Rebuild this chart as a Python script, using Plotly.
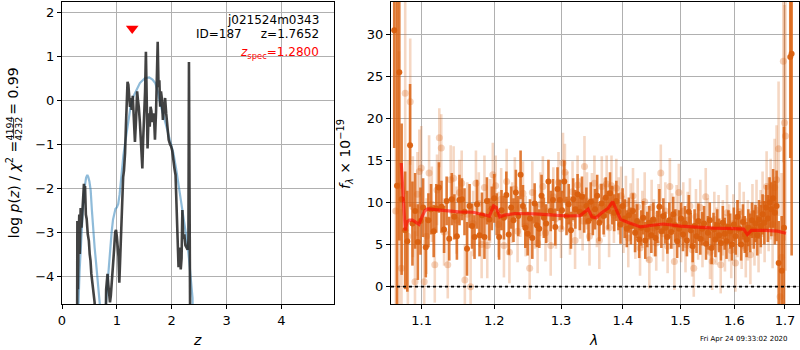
import plotly.graph_objects as go

# ---------------------------------------------------------------------------
# Left panel: log p(z) from the grism fit and the smooth photometric p(z)
# ---------------------------------------------------------------------------
z_grism = [0.275, 0.280, 0.290, 0.300, 0.315, 0.325, 0.340, 0.355, 0.370, 0.385,
           0.400, 0.410, 0.420, 0.435, 0.450, 0.470, 0.490, 0.505, 0.520, 0.535,
           0.550, 0.565, 0.580, 0.595, 0.610, 0.790, 0.805, 0.815, 0.830, 0.845,
           0.860, 0.875, 0.890, 0.905, 0.920, 0.935, 0.950, 0.970, 0.985, 1.000,
           1.015, 1.030, 1.045, 1.060, 1.075, 1.090, 1.100, 1.115, 1.130, 1.150,
           1.165, 1.180, 1.195, 1.210, 1.225, 1.240, 1.255, 1.270, 1.290, 1.310,
           1.330, 1.350, 1.370, 1.385, 1.400, 1.420, 1.440, 1.465, 1.480, 1.500,
           1.515, 1.530, 1.545, 1.560, 1.580, 1.600, 1.615, 1.630, 1.645, 1.665,
           1.680, 1.695, 1.715, 1.730, 1.745, 1.760, 1.775, 1.790, 1.805, 1.820,
           1.840, 1.860, 1.880, 1.900, 1.920, 1.945, 1.970, 1.990, 2.010, 2.030,
           2.050, 2.070, 2.085, 2.100, 2.115, 2.125, 2.140, 2.150, 2.165, 2.180,
           2.195, 2.210, 2.230, 2.250, 2.270, 2.290, 2.305, 2.315, 2.325, 2.340]
logp_grism = [-6.00, -2.75, -4.30, -3.30, -2.60, -3.50, -2.45, -2.90, -2.50, -2.05,
              -1.90, -2.30, -1.95, -2.60, -2.70, -3.05, -3.20, -3.50, -3.65, -3.95,
              -4.10, -4.25, -4.45, -4.60, -6.00, -6.00, -4.30, -4.05, -3.95, -4.20,
              -4.40, -4.60, -4.45, -4.20, -4.00, -3.85, -3.40, -3.00, -2.95, -3.10,
              -3.30, -3.55, -4.15, -3.60, -3.10, -2.30, -2.05, -1.75, -1.60, -1.20,
              -0.60, -0.10, 0.42, 0.35, -0.05, -0.15, 0.05, -0.22, 0.10, -0.35,
              -0.95, -0.45, 0.20, 0.00, -0.15, -0.50, -0.90, -1.55, -0.90, -0.40,
              0.20, 1.10, 0.05, -1.10, -0.30, -0.60, -0.15, -0.25, -0.50, -0.30,
              -0.45, -0.90, -0.25, 0.50, 1.33, 0.30, 0.45, -0.15, 0.20, 0.05,
              -0.45, -0.20, 0.05, -0.30, -0.60, -0.90, -1.00, -1.05, -1.15, -1.45,
              -1.55, -1.70, -2.30, -2.90, -3.50, -3.80, -3.40, -3.35, -3.85, -3.60,
              -2.50, -3.15, -3.05, -3.30, -3.35, -3.40, -3.20, 0.87, -2.00, -6.00]

z_phot = [0.290, 0.300, 0.320, 0.340, 0.355, 0.380, 0.410, 0.440, 0.462, 0.480,
          0.500, 0.523, 0.545, 0.570, 0.595, 0.620, 0.645, 0.670, 0.690, 0.700,
          0.780, 0.800, 0.825, 0.860, 0.880, 0.905, 0.930, 0.950, 0.975, 1.000,
          1.025, 1.050, 1.070, 1.088, 1.120, 1.150, 1.180, 1.210, 1.250, 1.300,
          1.360, 1.420, 1.510, 1.590, 1.650, 1.700, 1.750, 1.790, 1.850, 1.910,
          1.970, 2.030, 2.080, 2.120, 2.160, 2.210, 2.250, 2.285, 2.315, 2.345,
          2.380, 2.400]
logp_phot = [-6.00, -4.65, -3.90, -3.35, -3.00, -2.50, -2.00, -1.76, -1.70, -1.75,
             -1.85, -2.05, -2.50, -3.00, -3.35, -3.68, -4.00, -4.35, -4.65, -6.00,
             -6.00, -4.65, -4.25, -3.63, -3.30, -3.00, -2.72, -2.56, -2.47, -2.44,
             -2.36, -2.15, -1.88, -1.58, -1.25, -0.98, -0.70, -0.45, -0.15, 0.08,
             0.25, 0.39, 0.50, 0.52, 0.47, 0.39, 0.18, -0.08, -0.35, -0.65,
             -0.92, -1.20, -1.55, -1.89, -2.18, -2.55, -2.95, -3.25, -3.60, -3.95,
             -4.50, -6.00]

z_spec = 1.28
z_spec_marker_y = 1.63
chi2_num, chi2_den, chi2_red = 4194, 4232, 0.99

# ---------------------------------------------------------------------------
# Right panel: 1D spectrum (two orients), best-fit model
# ---------------------------------------------------------------------------
wave_a = [1.0645, 1.0680, 1.0710, 1.0740, 1.0785, 1.0813, 1.0849, 1.0880, 1.0915, 1.0950,
          1.0985, 1.1020, 1.1055, 1.1090, 1.1125, 1.1160, 1.1195, 1.1230, 1.1265, 1.1300,
          1.1335, 1.1370, 1.1405, 1.1440, 1.1475, 1.1510, 1.1545, 1.1580, 1.1615, 1.1650,
          1.1685, 1.1720, 1.1755, 1.1790, 1.1825, 1.1860, 1.1895, 1.1930, 1.1965, 1.2000,
          1.2035, 1.2070, 1.2105, 1.2140, 1.2175, 1.2210, 1.2245, 1.2280, 1.2315, 1.2350,
          1.2385, 1.2420, 1.2455, 1.2490, 1.2525, 1.2560, 1.2595, 1.2630, 1.2665, 1.2700,
          1.2735, 1.2770, 1.2805, 1.2840, 1.2875, 1.2910, 1.2945, 1.2980, 1.3015, 1.3050,
          1.3085, 1.3120, 1.3155, 1.3190, 1.3225, 1.3260, 1.3295, 1.3330, 1.3365, 1.3400,
          1.3435, 1.3470, 1.3505, 1.3540, 1.3575, 1.3610, 1.3645, 1.3680, 1.3715, 1.3750,
          1.3785, 1.3820, 1.3855, 1.3890, 1.3925, 1.3960, 1.3995, 1.4030, 1.4065, 1.4100,
          1.4135, 1.4170, 1.4205, 1.4240, 1.4275, 1.4310, 1.4345, 1.4380, 1.4415, 1.4450,
          1.4485, 1.4520, 1.4555, 1.4590, 1.4625, 1.4660, 1.4695, 1.4730, 1.4765, 1.4800,
          1.4835, 1.4870, 1.4905, 1.4940, 1.4975, 1.5010, 1.5045, 1.5080, 1.5115, 1.5150,
          1.5185, 1.5220, 1.5255, 1.5290, 1.5325, 1.5360, 1.5395, 1.5430, 1.5465, 1.5500,
          1.5535, 1.5570, 1.5605, 1.5640, 1.5675, 1.5710, 1.5745, 1.5780, 1.5815, 1.5850,
          1.5885, 1.5920, 1.5955, 1.5990, 1.6025, 1.6060, 1.6095, 1.6130, 1.6165, 1.6200,
          1.6235, 1.6270, 1.6305, 1.6340, 1.6375, 1.6410, 1.6445, 1.6480, 1.6515, 1.6550,
          1.6585, 1.6620, 1.6655, 1.6690, 1.6725, 1.6760, 1.6795, 1.6830,
          1.6872, 1.6934, 1.6980, 1.7108, 1.7136]
flux_a = [30.5, 12.0, 25.5, 10.4, 6.7, 5.4, 16.8, 7.5, 9.0, 5.3,
          7.8, 9.4, 4.7, 7.9, 9.2, 6.6, 9.3, 11.8, 9.5, 6.8,
          10.2, 5.7, 10.4, 8.3, 6.0, 10.3, 10.4, 8.9, 4.5, 9.6,
          7.2, 5.9, 9.8, 6.1, 8.5, 5.9, 10.2, 8.0, 9.3, 10.5,
          8.6, 5.9, 9.1, 8.2, 10.9, 6.2, 9.4, 7.9, 11.2, 8.4,
          13.3, 9.6, 7.0, 6.3, 8.1, 5.8, 9.9, 7.3, 6.9, 10.8,
          8.2, 7.5, 12.5, 9.0, 10.3, 7.1, 11.6, 10.3, 9.1, 12.5,
          8.4, 9.8, 6.7, 10.4, 9.2, 11.0, 8.9, 10.7, 8.7, 9.6,
          7.8, 10.1, 8.3, 9.2, 10.8, 7.6, 9.9, 8.4, 10.6, 9.1,
          11.1, 9.7, 8.8, 10.2, 8.9, 7.4, 9.6, 8.1, 6.9, 8.5,
          7.2, 9.0, 6.4, 7.8, 5.6, 7.0, 8.2, 5.5, 6.8, 7.6,
          6.1, 8.0, 5.8, 7.1, 9.5, 6.6, 8.4, 7.0, 5.9, 7.9,
          6.5, 8.6, 7.3, 5.4, 6.9, 8.1, 6.2, 7.5, 5.5, 8.9,
          6.7, 4.8, 7.2, 6.0, 7.8, 5.7, 6.9, 7.5, 5.1, 6.4,
          7.9, 4.6, 6.8, 5.6, 7.3, 6.1, 5.2, 7.6, 6.3, 5.4,
          7.1, 6.6, 5.0, 7.4, 6.0, 8.3, 6.9, 5.0, 7.7, 6.2,
          5.6, 7.0, 6.4, 7.9, 6.8, 7.5, 6.1, 8.0, 7.2, 8.6,
          7.6, 9.4, 8.1, 10.0, 9.2, 10.5, 8.8, 9.6,
          2.8, 1.9, 7.0, 27.3, 27.7]
err_a = [14.0, 24.0, 20.0, 9.0, 7.0, 6.0, 7.3, 5.0, 4.5, 4.5,
         4.0, 3.5, 3.6, 3.2, 3.0, 3.1, 2.9, 3.0, 3.1, 2.8,
         2.9, 2.6, 3.1, 2.7, 2.8, 3.0, 2.5, 2.8, 3.2, 2.6,
         2.7, 2.6, 2.9, 2.5, 2.7, 2.6, 2.8, 2.5, 2.6, 2.9,
         2.5, 2.7, 2.4, 2.6, 2.8, 2.4, 2.5, 2.6, 2.7, 2.4,
         2.9, 2.5, 2.4, 2.6, 2.3, 2.5, 2.4, 2.6, 2.3, 2.5,
         2.4, 2.3, 2.6, 2.4, 2.5, 2.2, 2.6, 2.4, 2.3, 2.5,
         2.3, 2.4, 2.2, 2.5, 2.3, 2.4, 2.2, 2.4, 2.3, 2.2,
         2.4, 2.3, 2.2, 2.4, 2.5, 2.2, 2.3, 2.2, 2.4, 2.3,
         2.5, 2.3, 2.2, 2.4, 2.2, 2.3, 2.1, 2.3, 2.2, 2.1,
         2.2, 2.1, 2.3, 2.0, 2.2, 2.1, 2.0, 2.2, 2.1, 2.0,
         2.1, 2.0, 2.2, 1.9, 2.1, 2.0, 2.1, 1.9, 2.0, 2.1,
         2.0, 2.1, 1.9, 2.0, 2.2, 1.9, 2.0, 2.1, 1.9, 2.0,
         2.1, 1.9, 2.0, 2.0, 2.1, 1.9, 2.0, 2.1, 1.9, 2.0,
         2.1, 1.9, 2.0, 2.1, 1.9, 2.0, 2.1, 2.0, 1.9, 2.1,
         2.0, 2.1, 1.9, 2.0, 2.2, 2.0, 2.1, 1.9, 2.1, 2.2,
         2.1, 2.2, 2.3, 2.1, 2.3, 2.2, 2.4, 2.3, 2.5, 2.4,
         2.6, 2.7, 2.8, 3.0, 3.2, 3.5, 3.8, 4.2,
         5.0, 6.5, 12.0, 12.0, 24.0]

wave_b = [1.0665, 1.0705, 1.0738, 1.0786, 1.0820, 1.0851, 1.0885, 1.0913, 1.0945, 1.0970,
          1.0995, 1.1034, 1.1065, 1.1099, 1.1135, 1.1175, 1.1205, 1.1236, 1.1262, 1.1300,
          1.1350, 1.1390, 1.1430, 1.1470, 1.1510, 1.1541, 1.1585, 1.1620, 1.1665, 1.1700,
          1.1740, 1.1780, 1.1820, 1.1860, 1.1900, 1.1940, 1.1980, 1.2020, 1.2060, 1.2100,
          1.2140, 1.2180, 1.2220, 1.2260, 1.2300, 1.2340, 1.2380, 1.2420, 1.2460, 1.2520,
          1.2560, 1.2600, 1.2640, 1.2680, 1.2720, 1.2760, 1.2800, 1.2840, 1.2880, 1.2920,
          1.2960, 1.3000, 1.3030, 1.3060, 1.3100, 1.3140, 1.3180, 1.3220, 1.3260, 1.3300,
          1.3340, 1.3370, 1.3410, 1.3450, 1.3490, 1.3530, 1.3570, 1.3610, 1.3650, 1.3690,
          1.3730, 1.3770, 1.3810, 1.3850, 1.3890, 1.3930, 1.3970, 1.4010, 1.4050, 1.4090,
          1.4130, 1.4170, 1.4210, 1.4250, 1.4290, 1.4330, 1.4370, 1.4410, 1.4450, 1.4490,
          1.4530, 1.4570, 1.4610, 1.4650, 1.4690, 1.4730, 1.4770, 1.4810, 1.4850, 1.4890,
          1.4930, 1.4970, 1.5010, 1.5050, 1.5090, 1.5130, 1.5170, 1.5210, 1.5240, 1.5280,
          1.5320, 1.5360, 1.5400, 1.5460, 1.5500, 1.5540, 1.5580, 1.5620, 1.5660, 1.5700,
          1.5740, 1.5780, 1.5820, 1.5860, 1.5900, 1.5940, 1.5980, 1.6020, 1.6060, 1.6100,
          1.6140, 1.6180, 1.6220, 1.6260, 1.6310, 1.6350, 1.6390, 1.6430, 1.6470, 1.6510,
          1.6550, 1.6590, 1.6630, 1.6670, 1.6710, 1.6750, 1.6790, 1.6830, 1.6870, 1.6900,
          1.6930, 1.6966, 1.6990, 1.7010]
flux_b = [9.0, 12.0, 2.2, 23.0, 6.0, 22.0, 9.5, 0.6, 11.0, 13.7,
          14.1, 0.6, 6.0, 13.5, 9.8, 2.6, 11.5, 17.7, 16.5, 6.5,
          2.6, 12.7, 12.9, 7.9, 11.2, 12.3, 0.8, 8.6, 0.0, 7.5,
          12.3, 9.9, 5.0, 11.8, 4.9, 9.0, 13.3, 12.0, 7.4, 10.4,
          4.9, 12.5, 4.1, 8.8, 11.6, 6.6, 9.4, 11.1, 7.2, 2.2,
          11.2, 8.0, 5.2, 9.8, 11.9, 6.4, 9.0, 4.9, 10.7, 8.1,
          12.4, 6.9, 14.7, 13.6, 10.0, 7.3, 11.3, 5.5, 12.1, 9.3,
          7.8, 14.3, 10.2, 6.0, 9.9, 12.3, 8.2, 5.5, 11.9, 9.4,
          12.2, 7.0, 12.0, 8.5, 11.7, 9.6, 10.8, 7.4, 9.9, 5.8,
          8.9, 10.8, 6.8, 9.5, 4.6, 8.0, 10.1, 6.3, 3.2, 9.4,
          7.0, 5.2, 8.7, 13.5, 6.3, 9.0, 4.8, 11.9, 7.8, 3.0,
          8.8, 11.2, 6.1, 9.0, 5.0, 7.9, 9.6, 4.4, 2.2, 8.3,
          6.6, 9.4, 5.5, 10.7, 7.2, 4.1, 3.0, 8.0, 6.0, 7.6,
          2.6, 7.0, 5.2, 8.8, 6.4, 4.3, 7.5, 2.8, 6.9, 8.9,
          5.6, 7.9, 4.6, 6.7, 3.8, 8.6, 6.2, 9.1, 5.4, 7.7,
          9.8, 6.9, 11.9, 8.6, 10.4, 7.4, 11.8, 12.7, 16.4, -1.2,
          3.5, 26.8, 19.5, 17.9]
err_b = [26.0, 16.0, 7.0, 12.0, 9.0, 7.5, 6.0, 6.0, 5.0, 5.0,
         5.0, 5.0, 4.5, 4.5, 4.5, 4.5, 4.2, 3.5, 4.0, 4.0,
         4.0, 4.1, 3.8, 4.0, 3.9, 3.9, 4.2, 3.8, 4.2, 3.9,
         3.9, 3.7, 4.0, 3.8, 3.9, 3.8, 3.8, 3.6, 3.9, 3.7,
         3.8, 3.9, 3.7, 3.6, 3.8, 3.7, 3.5, 3.8, 3.6, 3.7,
         3.7, 3.5, 3.6, 3.8, 3.6, 3.4, 3.7, 3.6, 3.5, 3.6,
         3.6, 3.5, 3.6, 3.4, 3.7, 3.5, 3.6, 3.4, 3.5, 3.6,
         3.5, 3.6, 3.4, 3.5, 3.6, 3.3, 3.5, 3.4, 3.6, 3.5,
         3.4, 3.5, 3.6, 3.3, 3.5, 3.4, 3.5, 3.4, 3.3, 3.5,
         3.4, 3.3, 3.5, 3.4, 3.3, 3.4, 3.5, 3.3, 3.4, 3.3,
         3.4, 3.3, 3.5, 3.4, 3.3, 3.4, 3.2, 3.4, 3.3, 3.4,
         3.3, 3.4, 3.2, 3.4, 3.3, 3.4, 3.3, 3.2, 3.4, 3.3,
         3.4, 3.3, 3.2, 3.4, 3.3, 3.2, 3.4, 3.3, 3.4, 3.3,
         3.4, 3.3, 3.4, 3.3, 3.4, 3.3, 3.5, 3.4, 3.4, 3.5,
         3.5, 3.4, 3.5, 3.6, 3.5, 3.6, 3.7, 3.6, 3.7, 3.8,
         3.9, 4.0, 4.2, 4.4, 4.8, 5.2, 5.8, 6.5, 8.0, 8.0,
         10.0, 12.0, 14.0, 16.0]

model_wave = [1.0735, 1.0760, 1.0786, 1.0810, 1.0840, 1.0880, 1.0920, 1.0965, 1.1000, 1.1040,
              1.1080, 1.1150, 1.1300, 1.1500, 1.1700, 1.1850, 1.1930, 1.1990, 1.2030, 1.2080,
              1.2150, 1.2300, 1.2600, 1.2900, 1.3100, 1.3300, 1.3380, 1.3430, 1.3490, 1.3560,
              1.3650, 1.3750, 1.3830, 1.3900, 1.3960, 1.4100, 1.4300, 1.4500, 1.4700, 1.5000,
              1.5300, 1.5600, 1.6000, 1.6180, 1.6250, 1.6330, 1.6600, 1.6850, 1.7020]
model_flux = [14.7, 10.0, 6.7, 7.7, 7.9, 7.9, 7.7, 7.4, 8.2, 9.0,
              9.25, 9.2, 9.0, 8.9, 8.85, 8.6, 8.4, 9.6, 9.4, 8.3,
              8.5, 8.7, 8.65, 8.5, 8.4, 8.45, 8.9, 9.2, 8.3, 8.2,
              8.8, 9.3, 10.1, 9.0, 8.0, 7.6, 7.1, 7.3, 7.45, 7.2,
              7.05, 6.95, 6.9, 6.85, 6.2, 6.7, 6.7, 6.6, 6.35]

wave_ticks = [1.1, 1.2, 1.3, 1.4, 1.5, 1.6, 1.7]
flux_ticks = [0, 5, 10, 15, 20, 25, 30]
z_ticks = [0, 1, 2, 3, 4]
logp_ticks = [-4, -3, -2, -1, 0, 1, 2]

# ---------------------------------------------------------------------------
W, H = 800, 350
FONT = "DejaVu Sans"
ORANGE = "217,95,14"


def px(x):
    return x / W


def py(y):
    return 1 - y / H


fig = go.Figure()

fig.add_trace(go.Scatter(x=z_phot, y=logp_phot, mode="lines",
                         line=dict(color="rgba(31,119,180,0.5)", width=2.2),
                         xaxis="x", yaxis="y", hoverinfo="skip"))
fig.add_trace(go.Scatter(x=z_grism, y=logp_grism, mode="lines",
                         line=dict(color="rgba(40,40,40,0.88)", width=2.6),
                         xaxis="x", yaxis="y", hoverinfo="skip"))
fig.add_trace(go.Scatter(x=[z_spec], y=[z_spec_marker_y], mode="markers",
                         marker=dict(symbol="triangle-down", color="red", size=11,
                                     line=dict(width=0)),
                         xaxis="x", yaxis="y", hoverinfo="skip"))

# second orient (faint)
fig.add_trace(go.Scatter(x=wave_b, y=flux_b, mode="markers",
                         marker=dict(color=f"rgba({ORANGE},0.28)", size=7, line=dict(width=0)),
                         error_y=dict(type="data", array=err_b, visible=True,
                                      color=f"rgba({ORANGE},0.25)", thickness=2.6, width=0),
                         xaxis="x2", yaxis="y2", hoverinfo="skip"))
# first orient
fig.add_trace(go.Scatter(x=wave_a, y=flux_a, mode="markers",
                         marker=dict(color=f"rgba({ORANGE},0.95)", size=6, line=dict(width=0)),
                         error_y=dict(type="data", array=err_a, visible=True,
                                      color=f"rgba({ORANGE},0.82)", thickness=2.6, width=0),
                         xaxis="x2", yaxis="y2", hoverinfo="skip"))
fig.add_trace(go.Scatter(x=model_wave, y=model_flux, mode="lines",
                         line=dict(color="rgba(255,0,0,0.6)", width=3.2),
                         xaxis="x2", yaxis="y2", hoverinfo="skip"))

axis_common = dict(showgrid=True, gridcolor="#b0b0b0", gridwidth=1, zeroline=False,
                   showline=True, linecolor="black", linewidth=1, mirror=True,
                   ticks="outside", ticklen=4, tickwidth=1, tickcolor="black",
                   automargin=False,
                   tickfont=dict(family=FONT, size=13, color="black"))

fig.update_layout(
    width=W, height=H,
    margin=dict(l=0, r=0, t=0, b=0, pad=0),
    paper_bgcolor="white", plot_bgcolor="white",
    showlegend=False,
    font=dict(family=FONT, color="black"),
    xaxis=dict(domain=[px(62), px(334.3)], range=[0, 4.965], tickvals=z_ticks,
               anchor="y", **axis_common),
    yaxis=dict(domain=[py(304), py(1.7)], range=[-4.635, 2.24], tickvals=logp_ticks,
               anchor="x", **axis_common),
    xaxis2=dict(domain=[px(391), px(799.3)], type="log",
                range=[0.025466, 0.237894], tickvals=wave_ticks,
                ticktext=[f"{t:.1f}" for t in wave_ticks], anchor="y2", **axis_common),
    yaxis2=dict(domain=[py(304), py(1.7)], range=[-2.06, 33.88], tickvals=flux_ticks,
                anchor="x2", **axis_common),
)

# zero level on the spectrum
fig.add_shape(type="line", xref="x2 domain", x0=0, x1=1, yref="y2", y0=0, y1=0,
              line=dict(color="black", width=1.6, dash="dot"))


def label(text, x, y, size, color="black", angle=0, xanchor="center"):
    return dict(text=text, x=px(x), y=py(y), xref="paper", yref="paper",
                xanchor=xanchor, yanchor="middle", textangle=angle, showarrow=False,
                font=dict(family=FONT, size=size, color=color))


ann = [
    # object labels
    label("j021524m0343", 320.5, 20, 12, xanchor="right"),
    label("ID=187\u00a0\u00a0\u00a0\u00a0\u00a0z=1.7652", 320.5, 34.5, 12, xanchor="right"),
    label(f"<i>z</i><sub>spec</sub>={z_spec:.4f}", 320.5, 53, 12, color="red", xanchor="right"),
    # axis titles
    label("<i>z</i>", 197, 340, 14),
    label("<i>λ</i>", 593.3, 340, 14),
    label("<i>f</i><sub><i>λ</i></sub> × 10<sup>−19</sup>", 345, 154, 14, angle=-90),
    # left y title with a stacked fraction
    label("log <i>p</i>(<i>z</i>) / <i>χ</i><sup>2</sup> =", 12.7, 189.5, 14, angle=-90),
    label(f"{chi2_num}", 9.0, 128.5, 9.5, angle=-90),
    label(f"{chi2_den}", 18.3, 128.5, 9.5, angle=-90),
    label(f"= {chi2_red:.2f}", 12.7, 91, 14, angle=-90),
    # timestamp
    label("Fri Apr 24 09:33:02 2020", 744, 339.3, 7),
]
fig.add_shape(type="line", xref="paper", yref="paper", x0=px(13.6), x1=px(13.6),
              y0=py(118.5), y1=py(138.5), line=dict(color="black", width=0.8))

fig.update_layout(annotations=ann)

fig.write_html("out.html")
